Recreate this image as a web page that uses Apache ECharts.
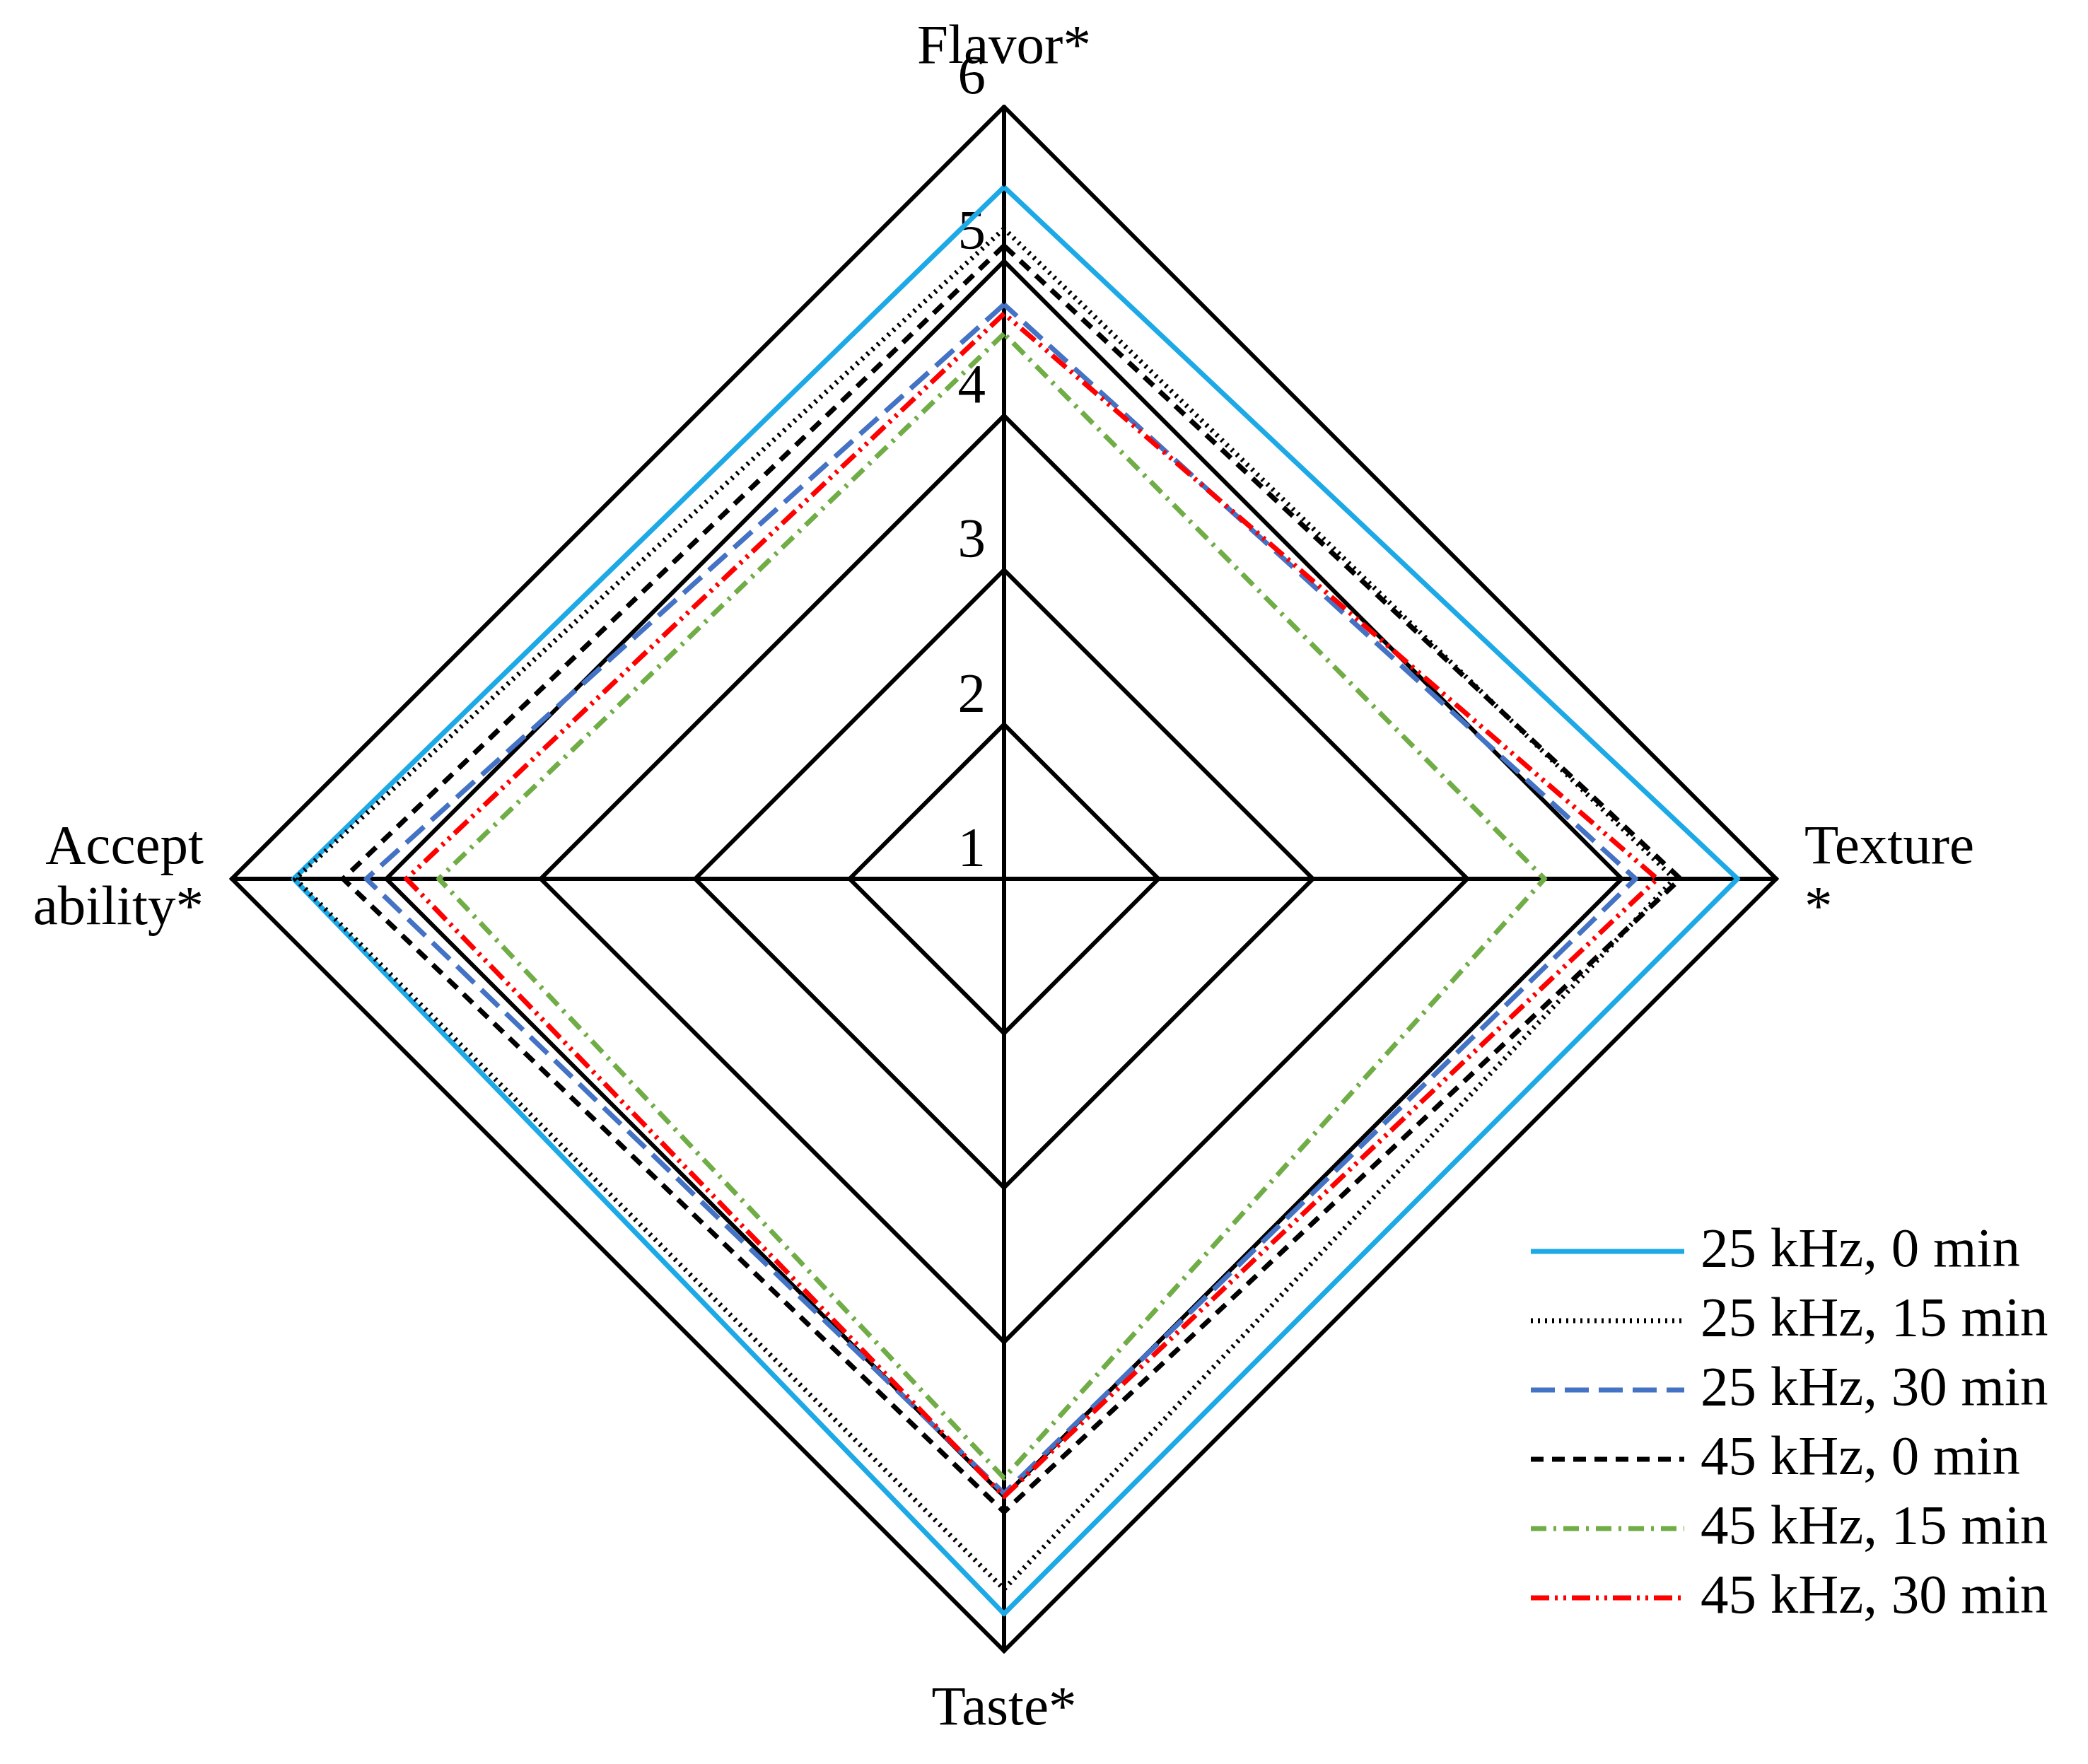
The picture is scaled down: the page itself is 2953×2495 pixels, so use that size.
<!DOCTYPE html><html><head><meta charset="utf-8"><script src="https://cdn.jsdelivr.net/npm/echarts@6/dist/echarts.min.js"></script>
<style>html,body{margin:0;background:#fff}#c{width:2953px;height:2495px}</style></head><body><div id="c"></div><script>
const indicators=['Flavor*','Accept\nability*','Taste*','Texture\n*'];
const seriesNames=['25 kHz, 0 min','25 kHz, 15 min','25 kHz, 30 min','45 kHz, 0 min','45 kHz, 15 min','45 kHz, 30 min'];
// order: Flavor, Acceptability, Taste, Texture
const v25_0=[5.48,5.6,5.76,5.75];
const v25_15=[5.21,5.59,5.6,5.34];
const v25_30=[4.72,5.13,4.98,5.09];
const v45_0=[5.1,5.28,5.1,5.38];
const v45_15=[4.53,4.66,4.88,4.5];
const v45_30=[4.66,4.87,5.0,5.23];
const tickLabels=['1','2','3','4','5','6'];
const values=[v25_0,v25_15,v25_30,v45_0,v45_15,v45_30];
const styles=[
 {color:'#1CA9E6',type:'solid'},
 {color:'#000',type:[3,7]},
 {color:'#4472C4',type:[34,14]},
 {color:'#000',type:[18,12]},
 {color:'#70AD47',type:[22,10,4,10]},
 {color:'#FF0000',type:[26,8,4,8,4,8]}];
const chart=echarts.init(document.getElementById('c'));
const font='Liberation Serif';
const cx=1420,cy=1243,R=1092;
const graphic=[];
seriesNames.forEach((n,i)=>{
 const y=1770+i*98;
 graphic.push({type:'line',shape:{x1:2165,y1:y,x2:2382,y2:y},style:{stroke:styles[i].color,lineWidth:7,lineDash:styles[i].type==='solid'?null:styles[i].type}});
 graphic.push({type:'text',x:2405,y:y,style:{text:n,font:'79px "Liberation Serif"',fill:'#000',verticalAlign:'middle'}});
});
chart.setOption({
 animation:false,
 graphic:graphic,
 radar:{center:[cx,cy],radius:R,startAngle:90,shape:'polygon',splitNumber:5,
  indicator:indicators.map(n=>({name:n,min:1,max:6})),
  axisName:{color:'#000',fontFamily:font,fontSize:79,lineHeight:86},nameGap:40,
  splitLine:{lineStyle:{color:'#000',width:6}},splitArea:{show:false},
  axisLine:{lineStyle:{color:'#000',width:6}},axisTick:{show:false},axisLabel:{show:false}},
 polar:{center:[cx,cy],radius:R},
 angleAxis:{startAngle:90,show:false,min:0,max:360},
 radiusAxis:{min:1,max:6,interval:1,axisLine:{show:false},axisTick:{show:false},splitLine:{show:false},
  axisLabel:{color:'#000',fontFamily:font,fontSize:79,margin:26,verticalAlign:'bottom',formatter:(v)=>tickLabels[Math.round(v)-1]}},
 series:values.map((d,i)=>({type:'radar',name:seriesNames[i],symbol:'none',z:3,
  lineStyle:{color:styles[i].color,type:styles[i].type,width:7},data:[{value:d}]}))
});
</script></body></html>
